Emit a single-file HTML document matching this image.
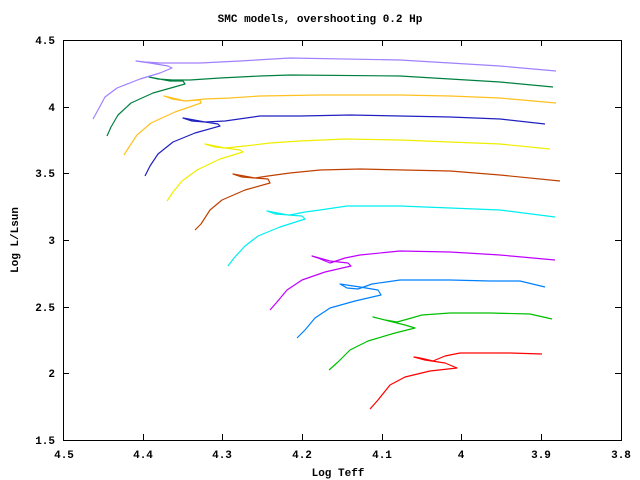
<!DOCTYPE html>
<html><head><style>body{margin:0;background:#fff}svg{display:block}text{font-family:"Liberation Mono",monospace;font-size:11px;font-weight:bold;fill:#000}</style></head>
<body>
<svg width="640" height="480" viewBox="0 0 640 480">
<rect width="640" height="480" fill="#fff"/>
<g stroke="#000" stroke-width="1" fill="none" shape-rendering="crispEdges">
<rect x="63.5" y="40.5" width="558" height="400"/>
<path d="M143.5 440v-6M143.5 40v6M222.5 440v-6M222.5 40v6M302.5 440v-6M302.5 40v6M382.5 440v-6M382.5 40v6M461.5 440v-6M461.5 40v6M541.5 440v-6M541.5 40v6
M63 107.5h6M621 107.5h-6M63 173.5h6M621 173.5h-6M63 240.5h6M621 240.5h-6M63 307.5h6M621 307.5h-6M63 373.5h6M621 373.5h-6"/>
</g>
<g text-anchor="middle">
<text x="64" y="458">4.5</text><text x="143" y="458">4.4</text><text x="222" y="458">4.3</text><text x="302" y="458">4.2</text><text x="382" y="458">4.1</text><text x="461" y="458">4</text><text x="541" y="458">3.9</text><text x="621" y="458">3.8</text>
<text x="320" y="22">SMC models, overshooting 0.2 Hp</text>
<text x="338" y="476">Log Teff</text>
</g>
<g text-anchor="end">
<text x="55" y="44">4.5</text><text x="55" y="111">4</text><text x="55" y="177">3.5</text><text x="55" y="244">3</text><text x="55" y="311">2.5</text><text x="55" y="377">2</text><text x="55" y="444">1.5</text>
</g>
<text transform="translate(18 240) rotate(-90)" text-anchor="middle">Log L/Lsun</text>
<g fill="none" stroke-width="1.2" stroke-linejoin="round">
<polyline stroke="#ff0000" points="370,409 378,400 390,385 405,377 430,371 457,368 445,363 425,360 414,357 420,358 433,361 445,356 460,353 480,353 510,353 542,354"/>
<polyline stroke="#00c000" points="329,370 338,362 350,350 368,341 395,333 415,328 405,325 385,320 373,317 385,320 397,322 408,319 422,315 450,313 490,313 530,314 552,319"/>
<polyline stroke="#0080ff" points="297,338 305,330 315,318 330,308 355,301 381,295 378,290 360,287 340,284 347,288 358,289 372,284 400,280 450,280 490,281 520,281 545,287"/>
<polyline stroke="#c000ff" points="270,310 277,302 287,290 302,280 325,272 351,266 348,263 330,261 312,256 318,258 330,263 345,258 360,255 400,251 450,252 500,255 555,260"/>
<polyline stroke="#00eeee" points="228,266 234,258 245,246 258,236 280,227 305,219 302,216 288,215 267,211 275,214 290,215 305,212 320,210 347,206 400,206 450,208 500,210 555,217"/>
<polyline stroke="#c04000" points="195,230 201,224 210,210 222,200 245,190 270,183 268,179 255,178 233,174 242,177 255,178 268,176 290,173 320,170 360,169 450,171 500,175 560,181"/>
<polyline stroke="#eeee00" points="167,201 173,192 182,181 197,170 220,159 243,152 240,150 225,148 205,144 215,147 225,148 245,146 270,143 300,141 345,139 400,140 450,142 500,144 550,149"/>
<polyline stroke="#2020c0" points="145,176 150,166 158,154 173,142 195,133 220,126 218,124 205,122 183,118 192,121 205,122 225,121 260,116 300,116 350,115 400,116 450,117 500,119 545,124"/>
<polyline stroke="#ffc020" points="124,155 129,147 137,135 151,123 175,112 201,103 200,100 185,101 164,96 172,99 185,101 205,99 230,98 260,96 320,95 400,95 450,96 500,98 556,103"/>
<polyline stroke="#008040" points="107,136 111,127 118,115 131,103 153,93 185,84 183,81 170,81 149,77 158,79 172,80 190,80 220,78 260,76 290,75 400,76 450,79 500,82 553,87"/>
<polyline stroke="#a080ff" points="93,119 98,110 105,97 117,88 140,79 160,73 172,68 168,66 150,63 136,61 145,62 160,63 200,63 240,61 290,58 400,60 450,63 500,66 556,71"/>
</g>
</svg>
</body></html>
